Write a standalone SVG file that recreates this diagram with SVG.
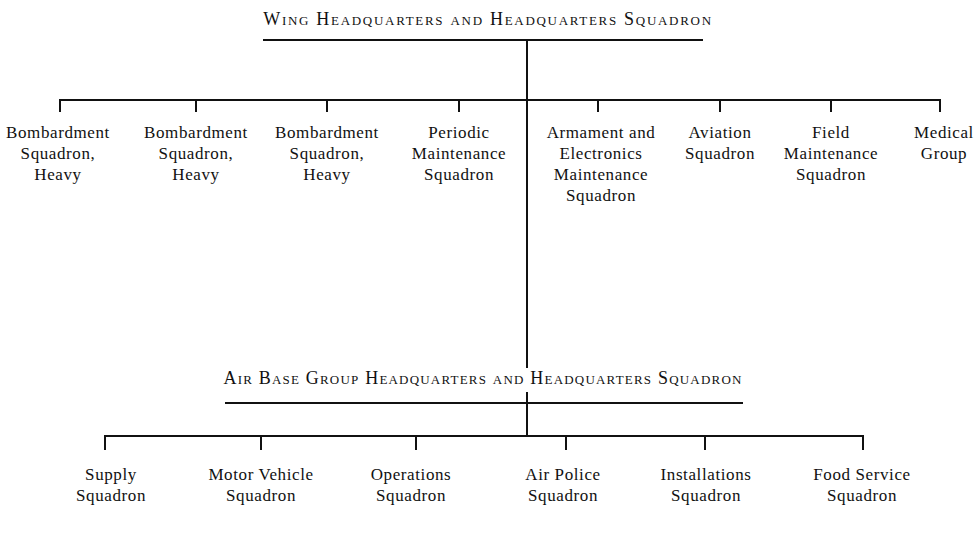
<svg xmlns="http://www.w3.org/2000/svg" width="980" height="537" viewBox="0 0 980 537">
<style>
.t{font-family:"Liberation Serif","Times New Roman",serif;font-size:17px;letter-spacing:0.6px;fill:#111;text-anchor:middle}
.h{font-family:"Liberation Serif","Times New Roman",serif;font-size:18px;font-variant:small-caps;fill:#111;text-anchor:middle}
.l{stroke:#111;stroke-width:2;fill:none}
</style>
<rect width="980" height="537" fill="#fff"/>
<g id="connectors" class="l">
<path d="M263 40H703M527 40V368M527 392V436"/>
<path d="M60 112V100H940V112M196 100V112M327 100V112M459 100V112M598 100V112M720 100V112M831 100V112"/>
<path d="M225 403H743"/>
<path d="M105 450V436H863V450M261 436V450M416 436V450M566 436V450M705 436V450"/>
</g>
<g id="wing"><text class="h" x="488" y="25" letter-spacing="1.7">Wing Headquarters and Headquarters Squadron</text></g>
<g id="bomb1"><text class="t" x="58" y="138">Bombardment</text><text class="t" x="58" y="159">Squadron,</text><text class="t" x="58" y="180">Heavy</text></g>
<g id="bomb2"><text class="t" x="196" y="138">Bombardment</text><text class="t" x="196" y="159">Squadron,</text><text class="t" x="196" y="180">Heavy</text></g>
<g id="bomb3"><text class="t" x="327" y="138">Bombardment</text><text class="t" x="327" y="159">Squadron,</text><text class="t" x="327" y="180">Heavy</text></g>
<g id="periodic"><text class="t" x="459" y="138">Periodic</text><text class="t" x="459" y="159">Maintenance</text><text class="t" x="459" y="180">Squadron</text></g>
<g id="armament"><text class="t" x="601" y="138">Armament and</text><text class="t" x="601" y="159">Electronics</text><text class="t" x="601" y="180">Maintenance</text><text class="t" x="601" y="201">Squadron</text></g>
<g id="aviation"><text class="t" x="720" y="138">Aviation</text><text class="t" x="720" y="159">Squadron</text></g>
<g id="field"><text class="t" x="831" y="138">Field</text><text class="t" x="831" y="159">Maintenance</text><text class="t" x="831" y="180">Squadron</text></g>
<g id="medical"><text class="t" x="944" y="138">Medical</text><text class="t" x="944" y="159">Group</text></g>
<g id="airbase"><text class="h" x="483" y="384" letter-spacing="1.2">Air Base Group Headquarters and Headquarters Squadron</text></g>
<g id="supply"><text class="t" x="111" y="480">Supply</text><text class="t" x="111" y="501">Squadron</text></g>
<g id="motor"><text class="t" x="261" y="480">Motor Vehicle</text><text class="t" x="261" y="501">Squadron</text></g>
<g id="operations"><text class="t" x="411" y="480">Operations</text><text class="t" x="411" y="501">Squadron</text></g>
<g id="police"><text class="t" x="563" y="480">Air Police</text><text class="t" x="563" y="501">Squadron</text></g>
<g id="installations"><text class="t" x="706" y="480">Installations</text><text class="t" x="706" y="501">Squadron</text></g>
<g id="food"><text class="t" x="862" y="480">Food Service</text><text class="t" x="862" y="501">Squadron</text></g>
</svg>
